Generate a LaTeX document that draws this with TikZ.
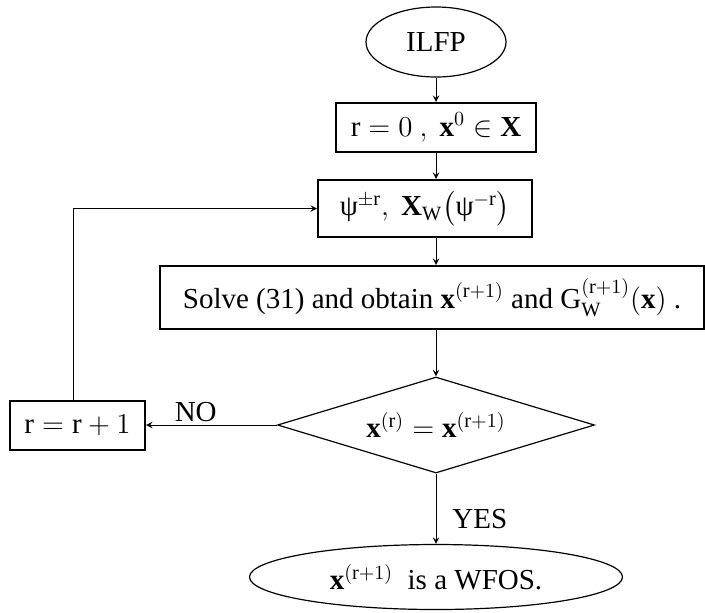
\documentclass[tikz,border=0pt]{standalone}
\usepackage{amsmath, amssymb}
\usepackage{fontspec}
\setmainfont{Liberation Serif}
\usetikzlibrary{shapes.geometric}
\tikzset{every picture/.style={/utils/exec={\fontsize{14.5}{17}\selectfont}}}
\tikzset{
	stepbox/.style={draw, rectangle, line width=1pt, inner sep=0pt},
	termnode/.style={draw, ellipse, line width=0.6pt, inner sep=0pt},
	testnode/.style={draw, diamond, aspect=3.3, line width=0.6pt, inner sep=0pt},
	flow/.style={-stealth, line width=0.45pt}
}

\begin{document}
\begin{tikzpicture}[x=0.5pt, y=-0.5pt]
		\useasboundingbox (0, 0) rectangle (705, 612);

		\node[termnode, minimum width=70pt, minimum height=35pt] (ilfp) at (436, 42) {ILFP};

		\node[stepbox, minimum width=100pt, minimum height=24.5pt] (init) at (436, 127.5) {$\mathrm{r}=0\ ,\ \mathbf{x}^{0}\in\mathbf{X}$};

		\node[stepbox, minimum width=107pt, minimum height=28.5pt] (psi) at (425, 208.5) {$\text{ψ}^{\pm\mathrm{r}},\ \mathbf{X}_{\mathrm{W}}\bigl(\text{ψ}^{-\mathrm{r}}\bigr)$};

		\node[stepbox, minimum width=272pt, minimum height=31.5pt] (solve) at (432, 297.5) {Solve (31) and obtain $\mathbf{x}^{(\mathrm{r}+1)}$ and $\mathrm{G}_{\mathrm{W}}^{(\mathrm{r}+1)}(\mathbf{x})$ .};

		\node[testnode, minimum width=158.5pt, minimum height=48pt] (check) at (436, 425) {$\mathbf{x}^{(\mathrm{r})}=\mathbf{x}^{(\mathrm{r}+1)}$};

		\node[stepbox, minimum width=67.5pt, minimum height=24.5pt] (incr) at (77.5, 425) {$\mathrm{r}=\mathrm{r}+1$};

		\node[termnode, minimum width=186.5pt, minimum height=32.5pt] (wfos) at (436, 577) {$\mathbf{x}^{(\mathrm{r}+1)}$\ \ is a WFOS.};

		\draw[flow] (ilfp) -- (init);
		\draw[flow] (init.south) -- (init.south |- psi.north);
		\draw[flow] (init.south |- psi.south) -- (init.south |- solve.north);
		\draw[flow] (check.north |- solve.south) -- (check.north);
		\draw[flow] (check) -- (wfos) node[pos=0.65, right, inner sep=0pt, xshift=8pt] {YES};
		\draw[flow] (check) -- (incr) node[pos=0.62, above, inner sep=1.5pt] {NO};
		\draw[flow] ([xshift=-2.25pt]incr.north) |- (psi);
	\end{tikzpicture}
\end{document}
